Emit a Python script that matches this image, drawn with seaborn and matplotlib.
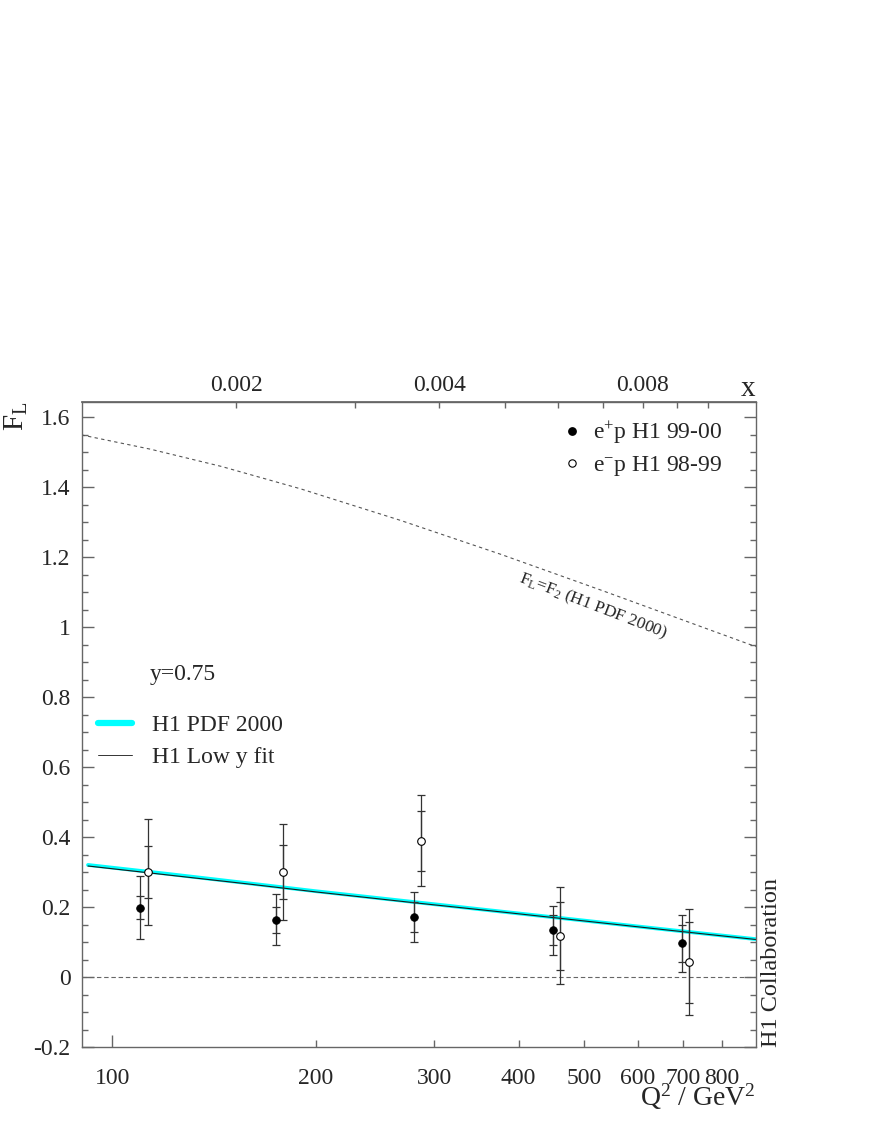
import matplotlib
matplotlib.use("Agg")
import matplotlib.pyplot as plt
import seaborn as sns
from matplotlib.ticker import FixedLocator, MultipleLocator, FuncFormatter, NullFormatter, FixedFormatter
from matplotlib.lines import Line2D

# ----------------------------------------------------------------------
# values
# ----------------------------------------------------------------------
# e+p H1 99-00 (full circles)
q2_pos = [110, 175, 280, 449, 699]
fl_pos = [0.199, 0.164, 0.172, 0.134, 0.097]
stat_pos = [0.032, 0.038, 0.043, 0.043, 0.053]
tot_pos = [0.089, 0.073, 0.071, 0.069, 0.081]

# e-p H1 98-99 (open circles)
q2_neg = [113, 179, 287, 460, 716]
fl_neg = [0.300, 0.300, 0.390, 0.119, 0.043]
stat_neg = [0.074, 0.077, 0.085, 0.097, 0.116]
tot_neg = [0.152, 0.137, 0.130, 0.139, 0.152]

# curves at y = 0.75
q2_curve = [92, 120, 160, 200, 280, 380, 500, 650, 898]
fl_pdf = [0.321, 0.296, 0.268, 0.246, 0.215, 0.187, 0.162, 0.138, 0.109]
fl_lowy = [0.318, 0.293, 0.266, 0.244, 0.213, 0.186, 0.161, 0.137, 0.108]

# F_L = F_2 limit
q2_f2 = [90, 114, 145, 190, 267, 376, 534, 872, 898]
fl_f2 = [1.550, 1.509, 1.460, 1.396, 1.306, 1.209, 1.104, 0.954, 0.945]

x_ticks_top = [0.002, 0.004, 0.008]
x_minor_top = [0.003, 0.005, 0.006, 0.007, 0.009, 0.010]
q2_labels = [200, 300, 400, 500, 600, 700, 800]

SY = 319.0 ** 2 * 0.75   # s * y

# ----------------------------------------------------------------------
sns.set_theme(style="ticks")
plt.rcParams['font.family'] = ['Liberation Serif', 'DejaVu Serif']
plt.rcParams['mathtext.fontset'] = 'custom'
plt.rcParams['mathtext.rm'] = 'Liberation Serif'
plt.rcParams['mathtext.it'] = 'Liberation Serif:italic'
plt.rcParams['axes.unicode_minus'] = False

FS = 17
GRAY = '#666666'
fig = plt.figure(figsize=(8.72, 11.28), dpi=100)
ax = fig.add_axes([0.0935, 0.0716, 0.7731, 0.5723])
ax.set_xscale('log')

# curves
sns.lineplot(x=q2_f2, y=fl_f2, ax=ax, color='#555555', lw=0.8, ls=(0, (3, 3)))
sns.lineplot(x=q2_curve, y=fl_pdf, ax=ax, color='#00ffff', lw=2.7)
sns.lineplot(x=q2_curve, y=fl_lowy, ax=ax, color='#1a1a1a', lw=0.8)
ax.axhline(0, color=GRAY, lw=0.8, ls=(0, (4, 2.5)), zorder=1)

# error bars (total and statistical)
for q, f, s, t in [(q2_pos, fl_pos, stat_pos, tot_pos), (q2_neg, fl_neg, stat_neg, tot_neg)]:
    ax.errorbar(q, f, yerr=t, fmt='none', ecolor='#333333', elinewidth=0.9,
                capsize=2.6, capthick=0.9, zorder=3)
    ax.errorbar(q, f, yerr=s, fmt='none', ecolor='#333333', elinewidth=0.9,
                capsize=2.6, capthick=0.9, zorder=3)

sns.scatterplot(x=q2_pos, y=fl_pos, ax=ax, color='black', edgecolor='black',
                s=30, linewidth=0.6, zorder=4)
sns.scatterplot(x=q2_neg, y=fl_neg, ax=ax, color='white', edgecolor='black',
                s=30, linewidth=0.8, zorder=4)

ax.set_xlim(90, 898)
ax.set_ylim(-0.2, 1.645)

# axes styling
for sp in ax.spines.values():
    sp.set_visible(True)
    sp.set_color(GRAY)
    sp.set_linewidth(1.0)

ax.xaxis.set_major_locator(FixedLocator([100]))
ax.xaxis.set_major_formatter(FuncFormatter(lambda v, p: '%d' % v))
ax.xaxis.set_minor_locator(FixedLocator(q2_labels))
ax.xaxis.set_minor_formatter(FixedFormatter([str(v) for v in q2_labels]))
ax.yaxis.set_major_locator(MultipleLocator(0.2))
ax.yaxis.set_minor_locator(MultipleLocator(0.05))
ax.yaxis.set_major_formatter(FuncFormatter(lambda v, p: '%g' % round(v, 2)))

ax.tick_params(axis='x', which='both', direction='in', top=False, bottom=True,
               color=GRAY, labelsize=FS, pad=15)
ax.tick_params(axis='x', which='major', length=8.6, width=1.0)
ax.tick_params(axis='x', which='minor', length=5.0, width=1.0)
ax.tick_params(axis='y', which='both', direction='in', left=True, right=True,
               color=GRAY, labelsize=FS, pad=8)
ax.tick_params(axis='y', which='major', length=8.6, width=1.0)
ax.tick_params(axis='y', which='minor', length=4.3, width=1.0)

# top axis in Bjorken x
sec = ax.secondary_xaxis('top', functions=(lambda q: q / SY, lambda x: x * SY))
sec.xaxis.set_major_locator(FixedLocator(x_ticks_top))
sec.xaxis.set_major_formatter(FuncFormatter(lambda v, p: '%g' % v))
sec.xaxis.set_minor_locator(FixedLocator(x_minor_top))
sec.xaxis.set_minor_formatter(NullFormatter())
sec.tick_params(which='both', direction='in', length=4.5, width=1.0, color=GRAY,
                labelsize=FS, pad=4)
sec.spines['top'].set_color(GRAY)

# labels
ax.text(-0.096, 1.0, r'F$_\mathrm{L}$', transform=ax.transAxes, rotation=90,
        ha='center', va='top', fontsize=21)
ax.text(1.0, -0.09, r'Q$^2$ / GeV$^2$', transform=ax.transAxes,
        ha='right', va='baseline', fontsize=20)
ax.text(1.0, 1.0088, 'x', transform=ax.transAxes, ha='right', va='baseline', fontsize=21)
ax.text(1.0234, 0.0, 'H1 Collaboration', transform=ax.transAxes, rotation=90,
        ha='center', va='bottom', fontsize=17.5)
ax.text(515, 1.06, r'F$_\mathrm{L}$=F$_2$ (H1 PDF 2000)', rotation=-21,
        ha='center', va='center', fontsize=12.5, rotation_mode='anchor')
ax.text(0.1016, 0.5767, 'y=0.75', transform=ax.transAxes, ha='left', va='center', fontsize=FS)

# legends
h_data = [Line2D([], [], ls='none', marker='o', ms=5.3, mfc='black', mec='black'),
          Line2D([], [], ls='none', marker='o', ms=5.3, mfc='white', mec='black', mew=0.8)]
leg1 = ax.legend(h_data, [r'e$^{+}$p H1 99-00', r'e$^{-}$p H1 98-99'],
                 loc='upper left', bbox_to_anchor=(0.7136, 0.9721), frameon=False,
                 fontsize=FS, borderpad=0, borderaxespad=0, handlelength=0.8,
                 handletextpad=0.48, labelspacing=0.34)
ax.add_artist(leg1)
h_fit = [Line2D([], [], color='#00ffff', lw=4.5),
         Line2D([], [], color='#333333', lw=0.7)]
ax.legend(h_fit, ['H1 PDF 2000', 'H1 Low y fit'], loc='upper left',
          bbox_to_anchor=(0.0249, 0.5156), frameon=False, fontsize=FS,
          borderpad=0, borderaxespad=0, handlelength=1.415, handletextpad=0.85,
          labelspacing=0.45)

fig.savefig('out.png', dpi=100)
